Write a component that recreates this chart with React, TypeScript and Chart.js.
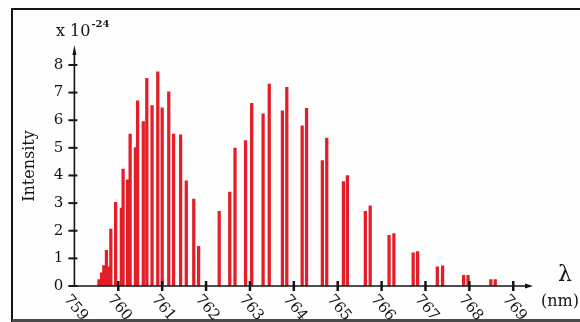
import React, { useEffect, useRef } from 'react';
import { Chart, registerables } from 'chart.js';

Chart.register(...registerables);

const wavelengths = [
  759.56, 759.62, 759.67, 759.73, 759.78, 759.83, 759.94, 760.07, 760.11, 760.21,
  760.27, 760.39, 760.44, 760.57, 760.65, 760.77, 760.9, 761.0, 761.15, 761.26,
  761.42, 761.55, 761.72, 761.83, 762.3, 762.54, 762.66, 762.9, 763.04, 763.3,
  763.44, 763.74, 763.84, 764.19, 764.29, 764.65, 764.75, 765.13, 765.22, 765.63,
  765.74, 766.17, 766.28, 766.72, 766.82, 767.27, 767.39, 767.87, 767.97, 768.49,
  768.59,
];
const intensities = [
  0.23, 0.48, 0.74, 1.29, 0.69, 2.06, 3.03, 2.82, 4.23, 3.84,
  5.5, 5.01, 6.7, 5.95, 7.52, 6.53, 7.75, 6.45, 7.03, 5.5,
  5.47, 3.81, 3.15, 1.44, 2.7, 3.4, 4.99, 5.26, 6.61, 6.23,
  7.31, 6.34, 7.19, 5.8, 6.43, 4.54, 5.35, 3.78, 4.0, 2.7,
  2.9, 1.83, 1.9, 1.2, 1.25, 0.69, 0.73, 0.39, 0.39, 0.23,
  0.23,
];
const xTickLabels = ['759', '760', '761', '762', '763', '764', '765', '766', '767', '768', '769'];
const yTickLabels = ['0', '1', '2', '3', '4', '5', '6', '7', '8'];
const yAxisTitle = 'Intensity';
const unitBase = 'x 10';
const unitExp = '-24';
const xAxisSymbol = 'λ';
const xAxisUnit = '(nm)';

const RED = '#e31e28';
const INK = '#141414';
const SERIF = '"DejaVu Serif", "Liberation Serif", serif';

const decorPlugin = {
  id: 'decor',
  beforeDraw(chart: any) {
    const { ctx, width, height } = chart;
    ctx.save();
    ctx.fillStyle = '#fdfdfd';
    ctx.fillRect(0, 0, width, height);
    ctx.strokeStyle = INK;
    ctx.lineWidth = 2;
    ctx.beginPath();
    ctx.moveTo(12, height);
    ctx.lineTo(12, 9);
    ctx.lineTo(width, 9);
    ctx.stroke();
    ctx.fillStyle = '#4a4a4a';
    ctx.fillRect(12, height - 3, width - 12, 3);
    ctx.restore();
  },
  afterDraw(chart: any) {
    const { ctx, chartArea } = chart;
    const xs = chart.scales.x;
    const ys = chart.scales.y;
    const x0 = xs.getPixelForValue(Number(xTickLabels[0]));
    const y0 = ys.getPixelForValue(0);
    ctx.save();
    ctx.strokeStyle = INK;
    ctx.fillStyle = INK;
    ctx.lineWidth = 1.6;
    ctx.beginPath();
    ctx.moveTo(x0 - 2, y0);
    ctx.lineTo(chartArea.right - 4, y0);
    ctx.moveTo(x0, y0);
    ctx.lineTo(x0, chartArea.top + 5);
    ctx.stroke();
    ctx.beginPath();
    ctx.moveTo(chartArea.right, y0);
    ctx.lineTo(chartArea.right - 8, y0 - 2.5);
    ctx.lineTo(chartArea.right - 8, y0 + 2.5);
    ctx.closePath();
    ctx.fill();
    ctx.beginPath();
    ctx.moveTo(x0, chartArea.top - 2);
    ctx.lineTo(x0 - 2, chartArea.top + 8);
    ctx.lineTo(x0 + 2, chartArea.top + 8);
    ctx.closePath();
    ctx.fill();

    ctx.font = `15px ${SERIF}`;
    ctx.textAlign = 'right';
    ctx.textBaseline = 'middle';
    yTickLabels.forEach((lab) => {
      const py = ys.getPixelForValue(Number(lab));
      ctx.lineWidth = 2;
      ctx.beginPath();
      ctx.moveTo(x0 - 6, py);
      ctx.lineTo(x0 + 3, py);
      ctx.stroke();
      ctx.fillText(lab, x0 - 11, py);
    });

    xTickLabels.forEach((lab, i) => {
      const px = xs.getPixelForValue(Number(lab));
      if (i > 0) {
        ctx.lineWidth = 2.5;
        ctx.beginPath();
        ctx.moveTo(px, y0 - 5);
        ctx.lineTo(px, y0 + 5);
        ctx.stroke();
      }
      ctx.save();
      ctx.translate(px - 8, y0 + 11);
      ctx.rotate((50 * Math.PI) / 180);
      ctx.textAlign = 'left';
      ctx.textBaseline = 'middle';
      ctx.font = `15px ${SERIF}`;
      ctx.fillText(lab, 0, 0);
      ctx.restore();
    });

    ctx.save();
    ctx.translate(30, 166);
    ctx.rotate(-Math.PI / 2);
    ctx.textAlign = 'center';
    ctx.textBaseline = 'middle';
    ctx.font = `16px ${SERIF}`;
    ctx.fillText(yAxisTitle, 0, 0);
    ctx.restore();

    ctx.textAlign = 'left';
    ctx.textBaseline = 'alphabetic';
    ctx.font = `16px ${SERIF}`;
    ctx.fillText(unitBase, 56, 36);
    const w = ctx.measureText(unitBase).width;
    ctx.font = `bold 10px ${SERIF}`;
    ctx.fillText(unitExp, 56 + w + 1, 27);

    ctx.font = `22px ${SERIF}`;
    ctx.textAlign = 'center';
    ctx.fillText(xAxisSymbol, 565, 281);
    ctx.font = `16px ${SERIF}`;
    ctx.textAlign = 'left';
    ctx.fillText(xAxisUnit, 541, 306);
    ctx.restore();
  },
};

export default function App() {
  const ref = useRef<HTMLCanvasElement | null>(null);
  useEffect(() => {
    if (!ref.current) return;
    const chart = new Chart(ref.current, {
      type: 'bar',
      data: {
        datasets: [
          {
            data: wavelengths.map((w, i) => ({ x: w, y: intensities[i] })),
            backgroundColor: RED,
            borderWidth: 0,
            barThickness: 2.6,
          } as any,
        ],
      },
      options: {
        animation: false,
        responsive: false,
        devicePixelRatio: 1,
        layout: { padding: { left: 74.4, right: 47, top: 47, bottom: 36 } },
        plugins: { legend: { display: false }, tooltip: { enabled: false } },
        scales: {
          x: { type: 'linear', min: 759, max: 769.45, offset: false, display: false },
          y: { type: 'linear', min: 0, max: 8.65, display: false },
        },
      },
      plugins: [decorPlugin],
    });
    return () => chart.destroy();
  }, []);
  return (
    <div style={{ position: 'fixed', left: 0, top: 0, width: 580, height: 322, background: '#fdfdfd' }}>
      <canvas ref={ref} width={580} height={322} style={{ display: 'block' }} />
    </div>
  );
}
